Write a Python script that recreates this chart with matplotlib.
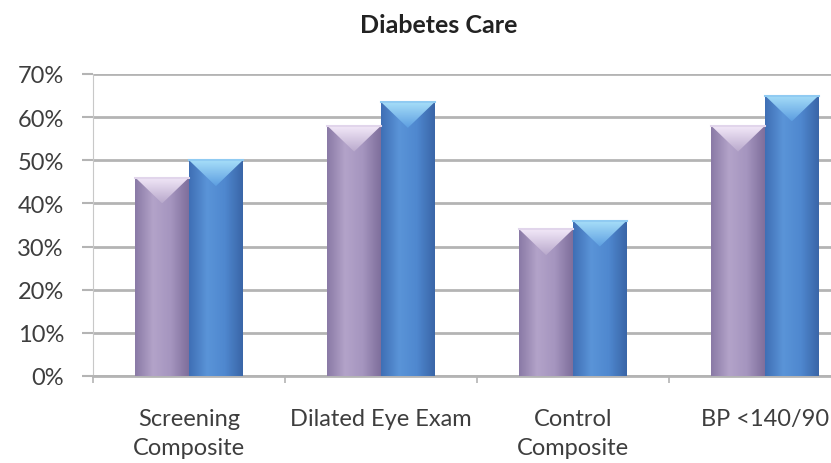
import numpy as np
import matplotlib.pyplot as plt
from matplotlib.patches import Polygon
from matplotlib.colors import LinearSegmentedColormap

plt.rcParams["font.family"] = ["Lato", "DejaVu Sans"]

categories = ["Screening\nComposite", "Dilated Eye Exam", "Control\nComposite", "BP <140/90"]
series_a = [46, 58, 34, 58]
series_b = [50, 63.5, 36, 65]
yticks = [0, 10, 20, 30, 40, 50, 60, 70]

TEXT = "#3e3e3e"
GRID = "#b4b4b4"

# colour ramps across bar width (edge -> centre -> edge)
cmap_a = LinearSegmentedColormap.from_list("a", ["#8a7aa6", "#b3a3c9", "#a595bf", "#7f6f9c"])
cmap_b = LinearSegmentedColormap.from_list("b", ["#3f6fb5", "#5a94d8", "#4f88cf", "#3a66a8"])
# top bevel ramps (bottom of the V -> top edge)
bev_a = LinearSegmentedColormap.from_list("ba", ["#b9a9cc", "#f2e8f8"])
bev_b = LinearSegmentedColormap.from_list("bb", ["#5d9ee0", "#a6def9"])

fig = plt.figure(figsize=(8.31, 4.64), dpi=100)
ax = fig.add_axes([0.112, 0.1875, 0.924, 0.651])

x = np.arange(len(categories))
w = 0.28
grad = np.linspace(0, 1, 64).reshape(1, -1)
vgrad = np.linspace(0, 1, 64).reshape(-1, 1)

for vals, off, cmap, bev in [(series_a, -w / 2, cmap_a, bev_a), (series_b, w / 2, cmap_b, bev_b)]:
    bars = ax.bar(x + off, vals, width=w, color="none", edgecolor="none", zorder=3)
    for b in bars:
        x0, x1 = b.get_x(), b.get_x() + b.get_width()
        h = b.get_height()
        im = ax.imshow(grad, cmap=cmap, extent=[x0, x1, 0, h], aspect="auto",
                       interpolation="bicubic", zorder=3)
        im.set_clip_path(b)
        tri = Polygon([[x0, h], [x1, h], [(x0 + x1) / 2, h - 6]], closed=True,
                      facecolor="none", edgecolor="none", zorder=4)
        ax.add_patch(tri)
        bim = ax.imshow(vgrad, cmap=bev, extent=[x0, x1, h - 6, h], aspect="auto",
                        origin="lower", interpolation="bicubic", zorder=4)
        bim.set_clip_path(tri)
        ax.plot([x0, x1], [h, h], color=bev(0.7), lw=1.5, zorder=5)

ax.set_xlim(-0.5, len(categories) - 0.5)
ax.set_ylim(0, 70)
ax.set_yticks(yticks)
ax.set_yticklabels([f"{t}%" for t in yticks], fontsize=17, color=TEXT)
ax.yaxis.grid(True, color=GRID, lw=2, zorder=0)
ax.set_axisbelow(True)

ax.set_xticks(x)
ax.set_xticklabels(categories, fontsize=17, color=TEXT, linespacing=1.5)
ax.set_xticks(np.arange(len(categories) + 1) - 0.5, minor=True)
ax.tick_params(axis="x", which="major", length=0, pad=23)
ax.tick_params(axis="x", which="minor", length=5, color=GRID, width=1.2)
ax.tick_params(axis="y", length=8, color=GRID, width=1.5, pad=13)

for s in ["top", "right"]:
    ax.spines[s].set_visible(False)
ax.spines["left"].set_color("#c8c8c8")
ax.spines["bottom"].set_color(GRID)
ax.spines["bottom"].set_linewidth(2)

fig.text(0.528, 0.929, "Diabetes Care", ha="center", va="baseline",
         fontsize=18, fontweight="bold", color="#222222")

fig.savefig("out.png", dpi=100)
